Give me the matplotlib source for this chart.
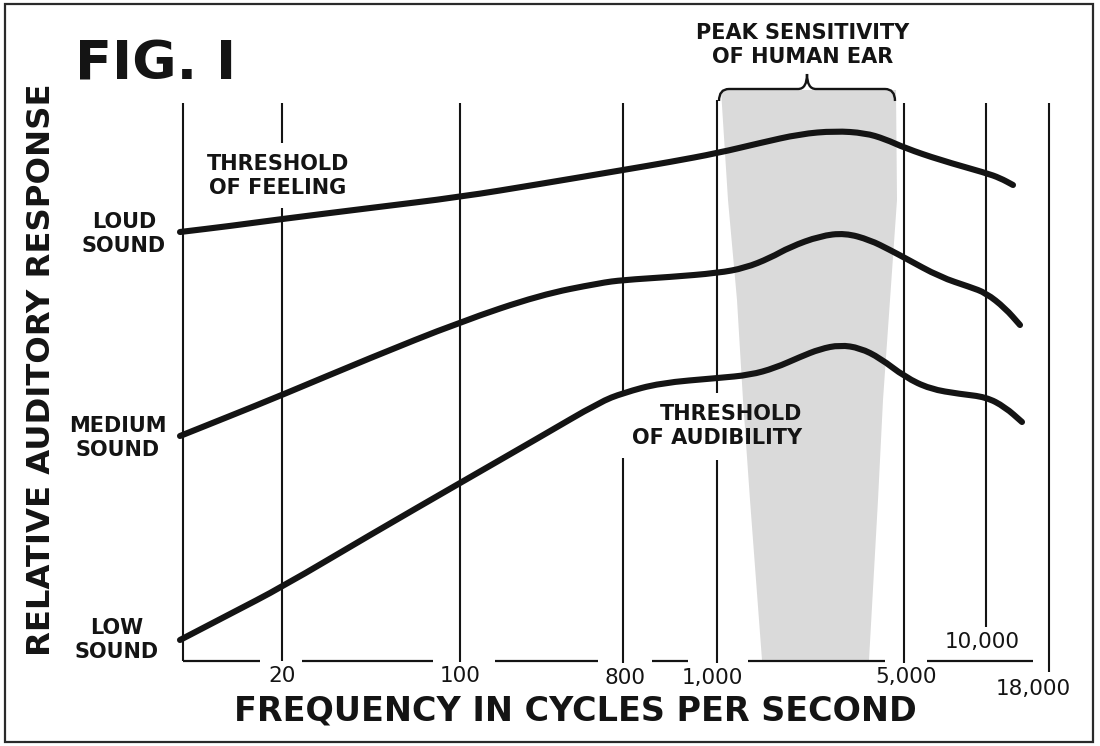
import matplotlib
matplotlib.use("Agg")
import matplotlib.pyplot as plt
from matplotlib import rcParams, font_manager
from matplotlib.path import Path
from matplotlib.patches import PathPatch, Polygon, Rectangle

rcParams.update({
    'font.family': 'DejaVu Sans',
    'savefig.dpi': 100,
})

# chart positions are in drawing units (left to right, top to bottom)
freq_pos = [183, 282, 460, 623, 717, 904, 986, 1049]
freq_labels = ["", "20", "100", "800", "1,000", "5,000", "10,000", "18,000"]
# each grid line is interrupted where lettering passes through it
grid_segments = [
    [(103, 661)],
    [(103, 143), (208, 661)],
    [(103, 662)],
    [(103, 393), (458, 663)],
    [(100, 393), (460, 663)],
    [(103, 663)],
    [(103, 627)],
    [(103, 672)],
]
base_segments = [(183, 260), (302, 433), (495, 598), (652, 688), (748, 885), (927, 1033)]

# threshold of feeling (loud sound)
feel_x = [180, 230, 282, 370, 460, 540, 623, 670, 718, 760, 800, 835, 865, 885, 905, 940, 986, 1000, 1013]
feel_y = [232, 226, 219, 208, 197, 184, 170, 162, 153, 143, 134, 131, 133, 139, 148, 160, 173, 178, 185]

# medium sound
med_x = [180, 230, 282, 370, 460, 540, 600, 623, 670, 718, 745, 770, 790, 820, 845, 870, 890, 905, 940, 970, 986, 1005, 1020]
med_y = [436, 416, 395, 358, 322, 295, 283, 280, 277, 273, 268, 258, 247, 236, 233, 240, 250, 258, 277, 287, 293, 308, 325]

# threshold of audibility (low sound)
aud_x = [180, 230, 282, 370, 460, 540, 600, 623, 660, 718, 750, 775, 800, 820, 840, 860, 880, 905, 930, 960, 986, 1005, 1022]
aud_y = [640, 614, 587, 535, 483, 437, 402, 393, 383, 378, 375, 368, 357, 349, 345, 348, 358, 377, 389, 394, 397, 407, 422]

# peak sensitivity band
band_y = [90, 200, 300, 400, 500, 660]
band_left = [721, 728, 737, 743, 750, 762]
band_right = [896, 897, 890, 883, 878, 869]

ink = "#141414"


def smooth_path(xs, ys):
    # quadratic curve through the midpoints, read points act as control points
    pts = list(zip(xs, ys))
    verts = [pts[0]]
    codes = [Path.MOVETO]
    for i in range(1, len(pts) - 1):
        m = ((pts[i][0] + pts[i + 1][0]) / 2, (pts[i][1] + pts[i + 1][1]) / 2)
        if i == 1:
            verts.append(((pts[0][0] + pts[1][0]) / 2, (pts[0][1] + pts[1][1]) / 2))
            codes.append(Path.LINETO)
        verts += [pts[i], m]
        codes += [Path.CURVE3, Path.CURVE3]
    verts.append(pts[-1])
    codes.append(Path.LINETO)
    return Path(verts, codes)


fig = plt.figure(figsize=(11, 7.46))
ax = fig.add_axes([0, 0, 1, 1])
ax.set_xlim(0, 1100)
ax.set_ylim(746, 0)
ax.axis("off")

# outer frame
ax.add_patch(Rectangle((5, 4), 1088, 738, fill=False, ec="#2a2a2a", lw=1.6, zorder=1))

# gray band
pts = list(zip(band_left, band_y)) + list(zip(band_right[::-1], band_y[::-1]))
ax.add_patch(Polygon(pts, closed=True, fc="#dadada", ec="none", zorder=1))

# brace over band
bl, br, by = band_left[0] - 2, band_right[0] - 1, 89
mid = (bl + br) / 2
verts = [(bl, by + 12), (bl, by), (bl + 10, by),
         (mid - 9, by), (mid, by), (mid, by - 15),
         (mid, by), (mid + 9, by),
         (br - 10, by), (br, by), (br, by + 12)]
codes = [Path.MOVETO, Path.CURVE3, Path.CURVE3,
         Path.LINETO, Path.CURVE3, Path.CURVE3,
         Path.CURVE3, Path.CURVE3,
         Path.LINETO, Path.CURVE3, Path.CURVE3]
ax.add_patch(PathPatch(Path(verts, codes), fill=False, ec=ink, lw=1.7, zorder=3))

# grid lines and baseline
for xp, segs in zip(freq_pos, grid_segments):
    for top, bot in segs:
        ax.vlines(xp, top, bot, color=ink, lw=1.5, zorder=2)
for x0, x1 in base_segments:
    ax.hlines(661, x0, x1, color=ink, lw=1.6, zorder=2)

# curves
for xs, ys in [(feel_x, feel_y), (med_x, med_y), (aud_x, aud_y)]:
    ax.add_patch(PathPatch(smooth_path(xs, ys), fill=False, ec=ink, lw=4.4,
                           capstyle="round", joinstyle="round", zorder=4))

# frequency labels
label_xy = {"20": (282, 676), "100": (460, 676), "800": (625, 678), "1,000": (712, 678),
            "5,000": (906, 677), "10,000": (982, 642), "18,000": (1033, 689)}
for lab in freq_labels:
    if lab:
        ax.text(*label_xy[lab], lab, fontsize=15.5, ha="center", va="center", color=ink)

names = {f.name for f in font_manager.fontManager.ttflist}
if "Liberation Sans Narrow" in names:
    ax.text(75, 79, "FIG. I", fontsize=48, fontweight="bold", family="Liberation Sans Narrow",
            ha="left", va="baseline", color=ink)
else:
    ax.text(75, 79, "FIG. I", fontsize=39, fontweight="bold", ha="left", va="baseline", color=ink)

lab_kw = dict(fontsize=15, fontweight="bold", ha="center", va="center", color=ink, linespacing=1.25)
ax.text(803, 45, "PEAK SENSITIVITY\nOF HUMAN EAR", **lab_kw)
ax.text(278, 176, "THRESHOLD\nOF FEELING", **lab_kw)
ax.text(124, 234, "LOUD\nSOUND", **lab_kw)
ax.text(118, 438, "MEDIUM\nSOUND", **lab_kw)
ax.text(117, 640, "LOW\nSOUND", **lab_kw)
ax.text(802, 426, "THRESHOLD\nOF AUDIBILITY", fontsize=15, fontweight="bold", ha="right",
        va="center", color=ink, linespacing=1.25, multialignment="right")

ax.text(575, 711, "FREQUENCY IN CYCLES PER SECOND", fontsize=24, fontweight="bold",
        ha="center", va="center", color=ink)
ax.text(42, 370, "RELATIVE AUDITORY RESPONSE", fontsize=23.2, fontweight="bold",
        rotation=90, ha="center", va="center", color=ink)

fig.savefig("out.png", dpi=100, facecolor="white")
